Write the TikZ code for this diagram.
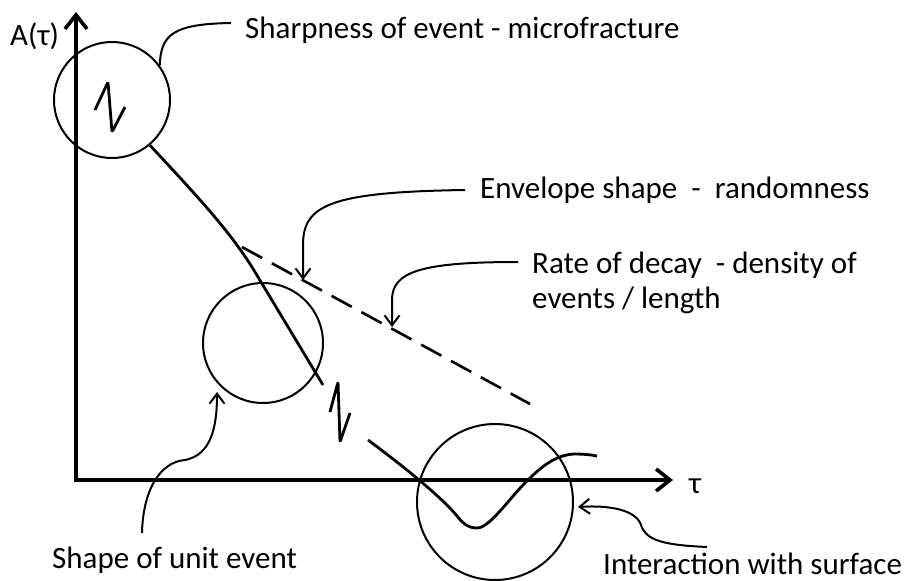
\documentclass[tikz,border=0pt]{standalone}
\usepackage{fontspec}
\setmainfont{Carlito}
\usetikzlibrary{arrows.meta}
\begin{document}
\begin{tikzpicture}[x=1pt,y=-1pt,
  lbl/.style={inner sep=0pt, anchor=base west, font=\fontsize{31}{36}\selectfont},
  ring/.style={circle, draw, line width=2pt, inner sep=0pt},
  axis/.style={line width=3.6pt, line join=miter},
  curvel/.style={line width=2.8pt},
  leader/.style={line width=2pt, -{Straight Barb[length=10pt,width=15pt,line width=2pt]}},
  leaderplain/.style={line width=2pt},
  envl/.style={line width=2.6pt, dash pattern=on 23pt off 11pt}]
\useasboundingbox (0,0) rectangle (911,581);

% axes
\coordinate (ytop) at (76,12);
\coordinate (O) at (76,480);
\coordinate (xend) at (673,480);
\draw[axis, {Straight Barb[length=14pt,width=22pt,line width=3.6pt]}-{Straight Barb[length=14pt,width=22pt,line width=3.6pt]}] (ytop) -- (O) -- (xend);

% labels
\node[lbl] (Atau) at (10,45) {A(τ)};
\node[lbl] (tau) at (689,493) {τ};
\node[lbl] (sharp) at (245,38) {Sharpness of event - microfracture};
\node[lbl] (env) at (480,198) {Envelope shape\ \ -\ \ randomness};
\node[lbl] (rate) at (532,273) {Rate of decay\ \ - density of};
\node[lbl] (rate2) at (532,308) {events / length};
\node[lbl] (shape) at (52,568) {Shape of unit event};
\node[lbl] (inter) at (603,574) {Interaction with surface};

% circles
\node[ring, minimum size=116pt] (c1) at (112,100) {};
\node[ring, minimum size=120pt] (c2) at (263,343) {};
\node[ring, minimum size=156pt] (c3) at (495,502) {};

% squiggle in circle 1
\draw[curvel, rounded corners=2pt, line join=round] (95,110) -- (108,82) -- (112,132) -- (125,107);

% main decay curve
\coordinate (m0) at (c1.-50);
\coordinate (m1) at (323,385);
\draw[curvel] (m0) .. controls (195,194) and (230,230.5) .. (255,272) -- (m1);

% break squiggle
\draw[curvel, rounded corners=2pt, line join=round] (330,412) -- (338,382) -- (340,442) -- (350,413);

% continuation and surface interaction wave
\coordinate (w0) at (368,440);
\coordinate (w1) at (597,456);
\draw[curvel] (w0) .. controls (395,460) and (440,495) .. (457,516)
  .. controls (465,526) and (470,528) .. (477,528)
  .. controls (490,528) and (510,497) .. (528,480)
  .. controls (545,463) and (558,455) .. (574,454)
  .. controls (585,454) and (592,455) .. (w1);

% envelope dashed line
\coordinate (d0) at (242,247);
\coordinate (d1) at (530,404);
\draw[envl] (d0) -- (d1);

% leaders
\coordinate (l1a) at (c1.36);
\coordinate (l1b) at (231,23);
\draw[leaderplain] (l1a) .. controls (161,35) and (172,24) .. (l1b);

\coordinate (l2a) at (465,190);
\coordinate (l2b) at (303,280);
\draw[leader] (l2a) .. controls (330,192) and (303,205) .. (303,245) -- (l2b);

\coordinate (l3a) at (518,262);
\coordinate (l3b) at (392,327);
\draw[leader] (l3a) .. controls (420,262) and (392,272) .. (392,300) -- (l3b);

\coordinate (l4a) at (142,533);
\coordinate (l4b) at (217,392);
\draw[leader] (l4a) .. controls (143,490) and (160,462) .. (185,460) .. controls (210,455) and (217,430) .. (l4b);

\coordinate (l5a) at (707,547);
\coordinate (l5b) at (578,507);
\draw[leader] (l5a) .. controls (662,545) and (646,540) .. (641,525) .. controls (636,510) and (610,505) .. (l5b);
\end{tikzpicture}
\end{document}
